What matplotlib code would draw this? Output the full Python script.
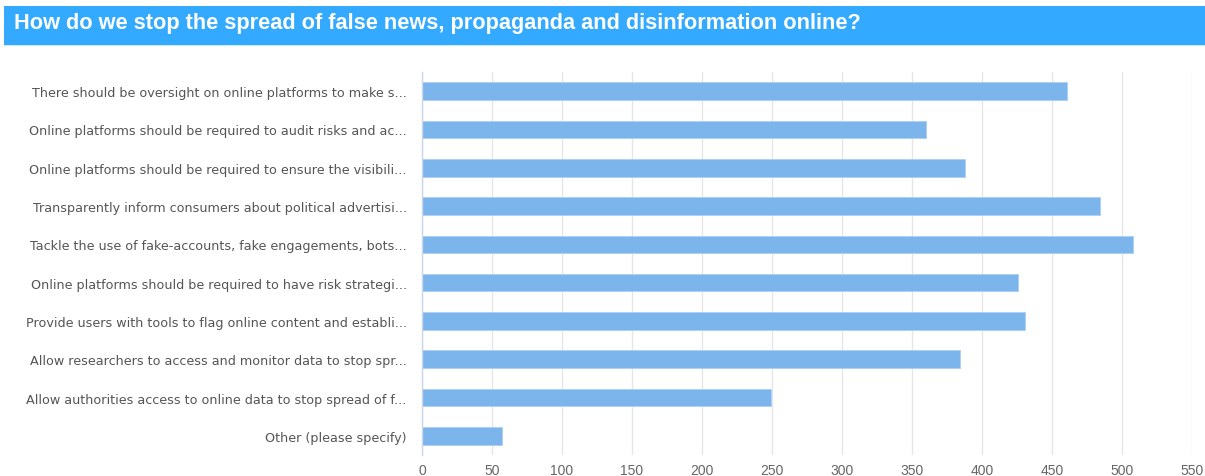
import matplotlib
matplotlib.use("Agg")
import matplotlib.pyplot as plt
from matplotlib.patches import Rectangle
from matplotlib import font_manager

title = "How do we stop the spread of false news, propaganda and disinformation online?"
categories = [
    "There should be oversight on online platforms to make s...",
    "Online platforms should be required to audit risks and ac...",
    "Online platforms should be required to ensure the visibili...",
    "Transparently inform consumers about political advertisi...",
    "Tackle the use of fake-accounts, fake engagements, bots...",
    "Online platforms should be required to have risk strategi...",
    "Provide users with tools to flag online content and establi...",
    "Allow researchers to access and monitor data to stop spr...",
    "Allow authorities access to online data to stop spread of f...",
    "Other (please specify)",
]
values = [461, 360, 388, 484, 508, 426, 431, 384, 249, 57]
xticks = [0, 50, 100, 150, 200, 250, 300, 350, 400, 450, 500, 550]

W, H = 1205, 477
fig = plt.figure(figsize=(W / 100, H / 100), dpi=100)

# title band
fig.patches.append(Rectangle((3.5 / W, 1 - 45.5 / H), (W - 3.5) / W, 38.5 / H,
                             transform=fig.transFigure, facecolor="#33aaff",
                             edgecolor="none", zorder=0))
fig.patches.append(Rectangle((3.5 / W, 1 - 47 / H), (W - 3.5) / W, 1.5 / H,
                             transform=fig.transFigure, facecolor="#c8ecff",
                             edgecolor="none", zorder=0))
fig.text(14 / W, 1 - 23 / H, title, color="white", fontsize=15.7,
         fontweight="bold", family=["Liberation Sans", "DejaVu Sans"],
         va="center", ha="left")

left, right, top, bottom = 422, 1192, 73, 456
ax = fig.add_axes([left / W, 1 - bottom / H, (right - left) / W, (bottom - top) / H])

n = len(categories)
ypos = list(range(n))
ax.barh(ypos, values, height=0.46, color="#7cb5ec", edgecolor="#a9d0f5",
        linewidth=0.6, zorder=3)
ax.set_ylim(n - 0.5, -0.5)
ax.set_xlim(0, 550)
ax.set_yticks(ypos)
ax.set_yticklabels(categories, color="#555555", fontsize=9.2,
                   family=["DejaVu Sans"])
ax.set_xticks(xticks)
avail = {f.name for f in font_manager.fontManager.ttflist}
tickfam = "Liberation Sans Narrow" if "Liberation Sans Narrow" in avail else "Liberation Sans"
ax.set_xticklabels([str(t) for t in xticks], color="#666666", fontsize=10,
                   family=[tickfam, "DejaVu Sans"])
ax.tick_params(axis="y", length=0, pad=11)
ax.tick_params(axis="x", length=0, pad=5.5)
for s in ["top", "right", "bottom"]:
    ax.spines[s].set_visible(False)
ax.spines["left"].set_color("#ccd6eb")
ax.spines["left"].set_linewidth(1)
ax.spines["left"].set_zorder(4)
ax.grid(axis="x", color="#e6e6e6", linewidth=1, zorder=0)
ax.set_axisbelow(True)

fig.savefig("out.png", dpi=100)
